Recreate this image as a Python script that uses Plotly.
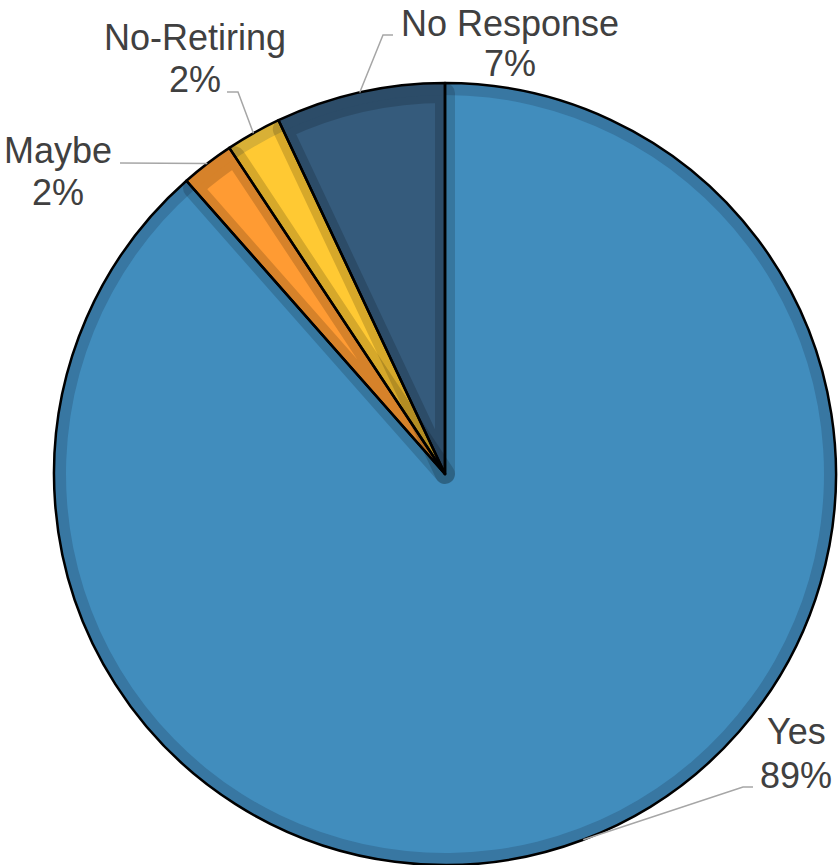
import math
import plotly.graph_objects as go

labels = ["Yes", "Maybe", "No-Retiring", "No Response"]
values = [88.5, 2.2, 2.3, 7.0]
pct_text = ["89%", "2%", "2%", "7%"]
inner_colors = ["#418dbd", "#ff9b33", "#ffc933", "#355b7c"]
rim_colors = ["#3877a2", "#ff9b33", "#d8b036", "#355b7c"]
band_width = [0, 20, 0, 20]  # edge bands stroked once per shared edge

# label line centres in window pixels (layout only): (x, y_name, y_pct)
label_pos = {"Yes": (796, 731, 775), "Maybe": (58, 150, 192),
             "No-Retiring": (195, 37, 80), "No Response": (510, 23, 64)}
elbow = {
    "Yes": [(753, 787), (743, 787)],
    "Maybe": [(120, 163)],
    "No-Retiring": [(227, 92), (238, 92)],
    "No Response": [(393, 35), (383, 35)],
}

W, H = 838, 865
X0, X1, Y0, Y1 = 52, 838, 83, 865  # pie box in pixels
R = min(X1 - X0, Y1 - Y0) / 2
CX, CY = (X0 + X1) / 2, (Y0 + Y1) / 2
RIM = 12


def px(x):
    return min(max(x / W, 0), 1)


def py(y):
    return min(max(1 - y / H, 0), 1)


def dom(r):
    return dict(x=[px(CX - r), px(CX + r)], y=[py(CY + r), py(CY - r)])


common = dict(labels=labels, values=values, sort=False, direction="clockwise",
              rotation=0, textinfo="none", hoverinfo="label+percent", showlegend=False)
clear = ["rgba(0,0,0,0)"] * len(values)

fig = go.Figure()
fig.add_trace(go.Pie(**common, domain=dom(R), marker=dict(colors=rim_colors, line=dict(width=0))))
fig.add_trace(go.Pie(**common, domain=dom(R - RIM), marker=dict(colors=inner_colors, line=dict(width=0))))
fig.add_trace(go.Pie(**common, domain=dom(R - max(band_width) / 2),
                     marker=dict(colors=clear, line=dict(color="rgba(0,0,0,0.16)", width=band_width))))
fig.add_trace(go.Pie(**common, domain=dom(R),
                     marker=dict(colors=clear, line=dict(color="black", width=2.5))))

font = dict(family="Arial, Liberation Sans, sans-serif", size=36, color="#404040")
total = sum(values)
cum = 0
annotations = []
shapes = []
for lab, v, p in zip(labels, values, pct_text):
    mid = (cum + v / 2) / total * 2 * math.pi
    cum += v
    ex, ey = CX + R * math.sin(mid), CY - R * math.cos(mid)
    pts = elbow[lab] + [(ex, ey)]
    path = "M " + " L ".join(f"{a / W},{1 - b / H}" for a, b in pts)
    shapes.append(dict(type="path", xref="paper", yref="paper", path=path,
                       line=dict(color="#a6a6a6", width=1.5)))
    lx, ly1, ly2 = label_pos[lab]
    for txt, ly in ((lab, ly1), (p, ly2)):
        annotations.append(dict(text=txt, x=lx / W, y=1 - ly / H,
                                xref="paper", yref="paper", showarrow=False,
                                xanchor="center", yanchor="middle", font=font))

fig.update_layout(width=W, height=H, margin=dict(l=0, r=0, t=0, b=0),
                  paper_bgcolor="white", plot_bgcolor="white",
                  annotations=annotations, shapes=shapes)
fig.write_html("out.html", config={"displayModeBar": False},
               post_script="document.body.style.margin='0';document.body.style.overflow='hidden';")
